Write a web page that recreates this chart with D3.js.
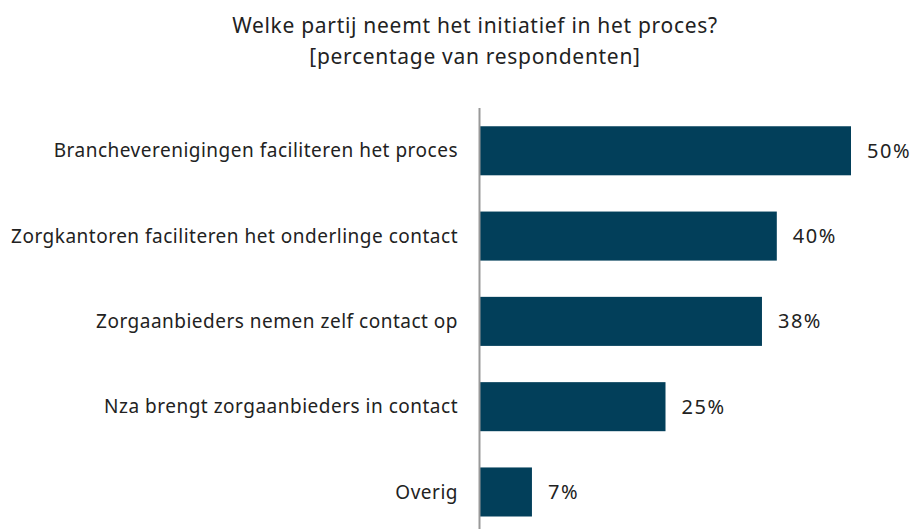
<!DOCTYPE html>
<html>
<head>
<meta charset="utf-8">
<script src="https://cdn.jsdelivr.net/npm/d3@7"></script>
<style>
  body { margin: 0; background: white; }
  svg { display: block; font-family: "Noto Sans", sans-serif; }
</style>
</head>
<body>
<div id="chart"></div>
<script>
const categories = [
    "Brancheverenigingen faciliteren het proces",
    "Zorgkantoren faciliteren het onderlinge contact",
    "Zorgaanbieders nemen zelf contact op",
    "Nza brengt zorgaanbieders in contact",
    "Overig"
]
const values = [50, 40, 38, 25, 7]
const titleLines = ["Welke partij neemt het initiatief in het proces?", "[percentage van respondenten]"]

const width = 914, height = 529

let svg = d3.select("#chart").append("svg")
    .attr("width", width)
    .attr("height", height)

// title
svg.append("g").selectAll("text")
    .data(titleLines)
    .enter().append("text")
    .attr("x", 475)
    .attr("y", (d, i) => 33 + i * 31)
    .attr("text-anchor", "middle")
    .attr("font-size", 21)
    .attr("letter-spacing", 0.7)
    .attr("fill", "#222")
    .text(d => d)

let x = d3.scaleLinear()
    .domain([0, 50])
    .range([480, 851])

let y = d3.scaleBand()
    .domain(categories)
    .range([90, 90 + 85.3 * 5.425])
    .paddingInner(0.425)
    .paddingOuter(0.425)

// bars
svg.append("g").selectAll("rect")
    .data(values)
    .enter().append("rect")
    .attr("x", x(0))
    .attr("y", (d, i) => y(categories[i]))
    .attr("width", d => x(d) - x(0))
    .attr("height", y.bandwidth())
    .attr("fill", "#023f5a")

// value labels
svg.append("g").selectAll("text")
    .data(values)
    .enter().append("text")
    .attr("x", d => x(d) + 16)
    .attr("y", (d, i) => y(categories[i]) + y.bandwidth() / 2)
    .attr("dy", "0.35em")
    .attr("font-size", 20)
    .attr("letter-spacing", 1.5)
    .attr("fill", "#222")
    .text(d => d + "%")

// category labels
svg.append("g").selectAll("text")
    .data(categories)
    .enter().append("text")
    .attr("x", 458)
    .attr("y", d => y(d) + y.bandwidth() / 2)
    .attr("dy", "0.35em")
    .attr("text-anchor", "end")
    .attr("font-size", 19)
    .attr("letter-spacing", 0.5)
    .attr("fill", "#222")
    .text(d => d)

// vertical axis line
svg.append("line")
    .attr("x1", x(0) - 0.5)
    .attr("x2", x(0) - 0.5)
    .attr("y1", 108)
    .attr("y2", height)
    .attr("stroke", "#999")
    .attr("stroke-width", 2)
</script>
</body>
</html>
